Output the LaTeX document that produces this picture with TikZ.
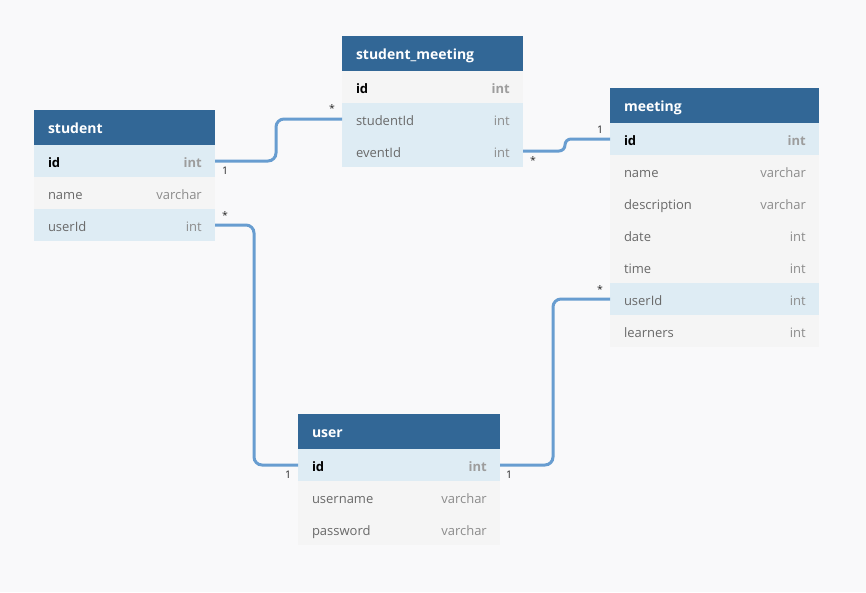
\documentclass[tikz,border=0pt]{standalone}
\usepackage{fontspec}
\setmainfont{Open Sans}
\usepackage{xcolor}
\usetikzlibrary{positioning}

\definecolor{hdr}{RGB}{50,103,150}
\definecolor{keyfill}{RGB}{222,236,244}
\definecolor{plainfill}{RGB}{245,245,245}
\definecolor{bg}{RGB}{249,249,250}
\definecolor{linkblue}{RGB}{104,157,208}
\definecolor{fieldtext}{RGB}{105,105,105}
\definecolor{typetext}{RGB}{140,140,140}

\tikzset{
    head/.style={anchor=north west, fill=hdr, text=white, font=\fontsize{14}{16}\selectfont\bfseries,
        text width=#1pt, inner xsep=14pt, inner ysep=0pt, minimum height=35pt,
        text height=11pt, text depth=0pt, outer sep=0pt},
    field/.style={fill=plainfill, text=fieldtext, font=\fontsize{13}{15}\selectfont,
        text width=#1pt, inner xsep=14pt, inner ysep=0pt, minimum height=32pt,
        text height=12pt, text depth=0pt, outer sep=0pt},
    keyfield/.style={field=#1, fill=keyfill},
    pk/.style={text=black, font=\fontsize{13}{15}\selectfont\bfseries},
    dtype/.style={anchor=east, text=typetext, font=\fontsize{13}{15}\selectfont,
        inner sep=0pt, text height=12pt, text depth=0pt},
    pktype/.style={dtype, font=\fontsize{13}{15}\selectfont\bfseries, text=typetext!85},
    rel/.style={draw=linkblue, line width=3pt, rounded corners=8pt},
    card/.style={font=\fontsize{10.5}{12}\selectfont, text=black!85, inner sep=0pt},
}

\begin{document}
\begin{tikzpicture}[x=1pt, y=-1pt]
    \useasboundingbox [fill=bg] (0,0) rectangle (866,592);

    % student
    \node (s) [head=153] at (34,110) {student};
    \node (s-id) [keyfield=153, pk, below=0pt of s] {id};
    \node (s-name) [field=153, below=0pt of s-id] {name};
    \node (s-uid) [keyfield=153, below=0pt of s-name] {userId};
    \node (s-id-t) [pktype] at ([xshift=-13pt]s-id.east) {int};
    \node (s-name-t) [dtype] at ([xshift=-13pt]s-name.east) {varchar};
    \node (s-uid-t) [dtype] at ([xshift=-13pt]s-uid.east) {int};

    % student_meeting
    \node (sm) [head=153] at (342,36) {student\_meeting};
    \node (sm-id) [field=153, pk, below=0pt of sm] {id};
    \node (sm-sid) [keyfield=153, below=0pt of sm-id] {studentId};
    \node (sm-eid) [keyfield=153, below=0pt of sm-sid] {eventId};
    \node (sm-id-t) [pktype] at ([xshift=-13pt]sm-id.east) {int};
    \node (sm-sid-t) [dtype] at ([xshift=-13pt]sm-sid.east) {int};
    \node (sm-eid-t) [dtype] at ([xshift=-13pt]sm-eid.east) {int};

    % meeting
    \node (m) [head=181] at (610,88) {meeting};
    \node (m-id) [keyfield=181, pk, below=0pt of m] {id};
    \node (m-name) [field=181, below=0pt of m-id] {name};
    \node (m-desc) [field=181, below=0pt of m-name] {description};
    \node (m-date) [field=181, below=0pt of m-desc] {date};
    \node (m-time) [field=181, below=0pt of m-date] {time};
    \node (m-uid) [keyfield=181, below=0pt of m-time] {userId};
    \node (m-learn) [field=181, below=0pt of m-uid] {learners};
    \node (m-id-t) [pktype] at ([xshift=-13pt]m-id.east) {int};
    \node (m-name-t) [dtype] at ([xshift=-13pt]m-name.east) {varchar};
    \node (m-desc-t) [dtype] at ([xshift=-13pt]m-desc.east) {varchar};
    \node (m-date-t) [dtype] at ([xshift=-13pt]m-date.east) {int};
    \node (m-time-t) [dtype] at ([xshift=-13pt]m-time.east) {int};
    \node (m-uid-t) [dtype] at ([xshift=-13pt]m-uid.east) {int};
    \node (m-learn-t) [dtype] at ([xshift=-13pt]m-learn.east) {int};

    % user
    \node (u) [head=174] at (298,414) {user};
    \node (u-id) [keyfield=174, pk, below=0pt of u] {id};
    \node (u-name) [field=174, below=0pt of u-id] {username};
    \node (u-pass) [field=174, below=0pt of u-name] {password};
    \node (u-id-t) [pktype] at ([xshift=-13pt]u-id.east) {int};
    \node (u-name-t) [dtype] at ([xshift=-13pt]u-name.east) {varchar};
    \node (u-pass-t) [dtype] at ([xshift=-13pt]u-pass.east) {varchar};

    % relations
    \draw [rel] (s-id.east) -- ++(61,0) |- (sm-sid.west);
    \draw [rel, rounded corners=6pt] (sm-eid.east) -- ++(42,0) |- (m-id.west);
    \draw [rel] (s-uid.east) -- ++(39,0) |- (u-id.west);
    \draw [rel] (u-id.east) -- ++(53,0) |- (m-uid.west);

    \node (c-s-id) [card] at ([shift={(10,10)}]s-id.east) {1};
    \node (c-sm-sid) [card] at ([shift={(-10,-10)}]sm-sid.west) {*};
    \node (c-sm-eid) [card] at ([shift={(10,10)}]sm-eid.east) {*};
    \node (c-m-id) [card] at ([shift={(-10,-9)}]m-id.west) {1};
    \node (c-s-uid) [card] at ([shift={(10,-9)}]s-uid.east) {*};
    \node (c-u-idl) [card] at ([shift={(-10,10)}]u-id.west) {1};
    \node (c-u-idr) [card] at ([shift={(9,10)}]u-id.east) {1};
    \node (c-m-uid) [card] at ([shift={(-10,-9)}]m-uid.west) {*};
\end{tikzpicture}
\end{document}
